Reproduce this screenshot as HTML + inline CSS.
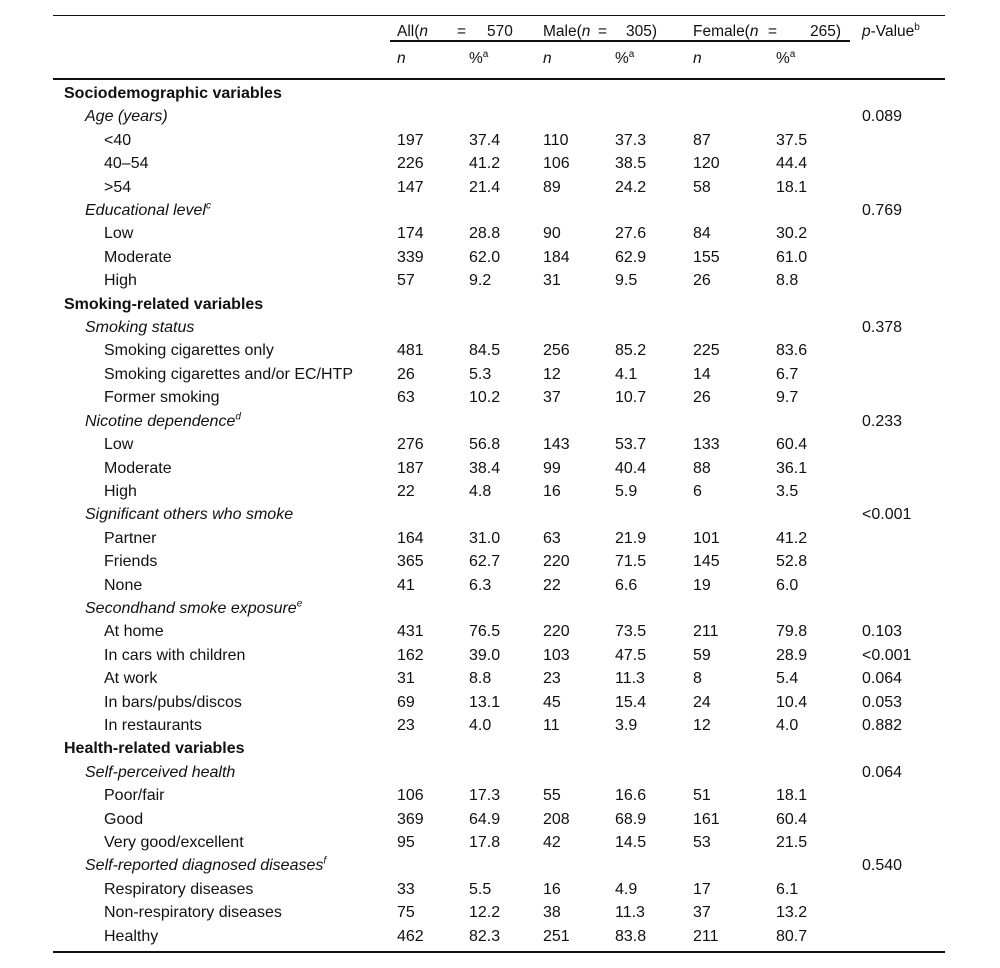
<!DOCTYPE html>
<html><head><meta charset="utf-8"><style>
body{margin:0;width:1000px;height:968px;background:#fff;font-family:"Liberation Sans",Arial,sans-serif;font-size:16px;color:#111;position:relative;overflow:hidden}
.hl{position:absolute;background:#111}
.h{position:absolute;white-space:nowrap;font-size:15.5px}
table{position:absolute;left:53px;top:82px;width:892px;border-collapse:collapse}
td{height:23.4px;padding:0;white-space:nowrap;line-height:23.4px;vertical-align:middle}
.s{padding-left:11px;font-weight:bold}
.i{padding-left:32px;font-style:italic}
.k{padding-left:51px}
sup{font-size:10px;line-height:0}
</style></head><body>
<div class="hl" style="left:53px;top:15px;width:892px;height:1px"></div>
<div class="hl" style="left:390px;top:40px;width:460px;height:2px"></div>
<div class="hl" style="left:53px;top:78px;width:892px;height:2px"></div>
<div class="hl" style="left:53px;top:951px;width:892px;height:2px"></div>
<div class="h" style="left:397px;top:23px">All(<i>n</i></div>
<div class="h" style="left:457px;top:23px">=</div>
<div class="h" style="left:487px;top:23px">570</div>
<div class="h" style="left:543px;top:23px">Male(<i>n</i></div>
<div class="h" style="left:598px;top:23px">=</div>
<div class="h" style="left:626px;top:23px">305)</div>
<div class="h" style="left:693px;top:23px">Female(<i>n</i></div>
<div class="h" style="left:768px;top:23px">=</div>
<div class="h" style="left:810px;top:23px">265)</div>
<div class="h" style="left:862px;top:23px"><i>p</i>-Value<sup>b</sup></div>
<div class="h" style="left:397px;top:50px"><i>n</i></div>
<div class="h" style="left:469px;top:50px">%<sup>a</sup></div>
<div class="h" style="left:543px;top:50px"><i>n</i></div>
<div class="h" style="left:615px;top:50px">%<sup>a</sup></div>
<div class="h" style="left:693px;top:50px"><i>n</i></div>
<div class="h" style="left:776px;top:50px">%<sup>a</sup></div>
<table>
<colgroup><col style="width:344px"><col style="width:72px"><col style="width:74px"><col style="width:72px"><col style="width:78px"><col style="width:83px"><col style="width:86px"><col></colgroup>
<tr><td class="s">Sociodemographic variables</td><td></td><td></td><td></td><td></td><td></td><td></td><td></td></tr>
<tr><td class="i">Age (years)</td><td></td><td></td><td></td><td></td><td></td><td></td><td>0.089</td></tr>
<tr><td class="k">&lt;40</td><td>197</td><td>37.4</td><td>110</td><td>37.3</td><td>87</td><td>37.5</td><td></td></tr>
<tr><td class="k">40–54</td><td>226</td><td>41.2</td><td>106</td><td>38.5</td><td>120</td><td>44.4</td><td></td></tr>
<tr><td class="k">&gt;54</td><td>147</td><td>21.4</td><td>89</td><td>24.2</td><td>58</td><td>18.1</td><td></td></tr>
<tr><td class="i">Educational level<sup>c</sup></td><td></td><td></td><td></td><td></td><td></td><td></td><td>0.769</td></tr>
<tr><td class="k">Low</td><td>174</td><td>28.8</td><td>90</td><td>27.6</td><td>84</td><td>30.2</td><td></td></tr>
<tr><td class="k">Moderate</td><td>339</td><td>62.0</td><td>184</td><td>62.9</td><td>155</td><td>61.0</td><td></td></tr>
<tr><td class="k">High</td><td>57</td><td>9.2</td><td>31</td><td>9.5</td><td>26</td><td>8.8</td><td></td></tr>
<tr><td class="s">Smoking-related variables</td><td></td><td></td><td></td><td></td><td></td><td></td><td></td></tr>
<tr><td class="i">Smoking status</td><td></td><td></td><td></td><td></td><td></td><td></td><td>0.378</td></tr>
<tr><td class="k">Smoking cigarettes only</td><td>481</td><td>84.5</td><td>256</td><td>85.2</td><td>225</td><td>83.6</td><td></td></tr>
<tr><td class="k">Smoking cigarettes and/or EC/HTP</td><td>26</td><td>5.3</td><td>12</td><td>4.1</td><td>14</td><td>6.7</td><td></td></tr>
<tr><td class="k">Former smoking</td><td>63</td><td>10.2</td><td>37</td><td>10.7</td><td>26</td><td>9.7</td><td></td></tr>
<tr><td class="i">Nicotine dependence<sup>d</sup></td><td></td><td></td><td></td><td></td><td></td><td></td><td>0.233</td></tr>
<tr><td class="k">Low</td><td>276</td><td>56.8</td><td>143</td><td>53.7</td><td>133</td><td>60.4</td><td></td></tr>
<tr><td class="k">Moderate</td><td>187</td><td>38.4</td><td>99</td><td>40.4</td><td>88</td><td>36.1</td><td></td></tr>
<tr><td class="k">High</td><td>22</td><td>4.8</td><td>16</td><td>5.9</td><td>6</td><td>3.5</td><td></td></tr>
<tr><td class="i">Significant others who smoke</td><td></td><td></td><td></td><td></td><td></td><td></td><td>&lt;0.001</td></tr>
<tr><td class="k">Partner</td><td>164</td><td>31.0</td><td>63</td><td>21.9</td><td>101</td><td>41.2</td><td></td></tr>
<tr><td class="k">Friends</td><td>365</td><td>62.7</td><td>220</td><td>71.5</td><td>145</td><td>52.8</td><td></td></tr>
<tr><td class="k">None</td><td>41</td><td>6.3</td><td>22</td><td>6.6</td><td>19</td><td>6.0</td><td></td></tr>
<tr><td class="i">Secondhand smoke exposure<sup>e</sup></td><td></td><td></td><td></td><td></td><td></td><td></td><td></td></tr>
<tr><td class="k">At home</td><td>431</td><td>76.5</td><td>220</td><td>73.5</td><td>211</td><td>79.8</td><td>0.103</td></tr>
<tr><td class="k">In cars with children</td><td>162</td><td>39.0</td><td>103</td><td>47.5</td><td>59</td><td>28.9</td><td>&lt;0.001</td></tr>
<tr><td class="k">At work</td><td>31</td><td>8.8</td><td>23</td><td>11.3</td><td>8</td><td>5.4</td><td>0.064</td></tr>
<tr><td class="k">In bars/pubs/discos</td><td>69</td><td>13.1</td><td>45</td><td>15.4</td><td>24</td><td>10.4</td><td>0.053</td></tr>
<tr><td class="k">In restaurants</td><td>23</td><td>4.0</td><td>11</td><td>3.9</td><td>12</td><td>4.0</td><td>0.882</td></tr>
<tr><td class="s">Health-related variables</td><td></td><td></td><td></td><td></td><td></td><td></td><td></td></tr>
<tr><td class="i">Self-perceived health</td><td></td><td></td><td></td><td></td><td></td><td></td><td>0.064</td></tr>
<tr><td class="k">Poor/fair</td><td>106</td><td>17.3</td><td>55</td><td>16.6</td><td>51</td><td>18.1</td><td></td></tr>
<tr><td class="k">Good</td><td>369</td><td>64.9</td><td>208</td><td>68.9</td><td>161</td><td>60.4</td><td></td></tr>
<tr><td class="k">Very good/excellent</td><td>95</td><td>17.8</td><td>42</td><td>14.5</td><td>53</td><td>21.5</td><td></td></tr>
<tr><td class="i">Self-reported diagnosed diseases<sup>f</sup></td><td></td><td></td><td></td><td></td><td></td><td></td><td>0.540</td></tr>
<tr><td class="k">Respiratory diseases</td><td>33</td><td>5.5</td><td>16</td><td>4.9</td><td>17</td><td>6.1</td><td></td></tr>
<tr><td class="k">Non-respiratory diseases</td><td>75</td><td>12.2</td><td>38</td><td>11.3</td><td>37</td><td>13.2</td><td></td></tr>
<tr><td class="k">Healthy</td><td>462</td><td>82.3</td><td>251</td><td>83.8</td><td>211</td><td>80.7</td><td></td></tr>
</table>
</body></html>
